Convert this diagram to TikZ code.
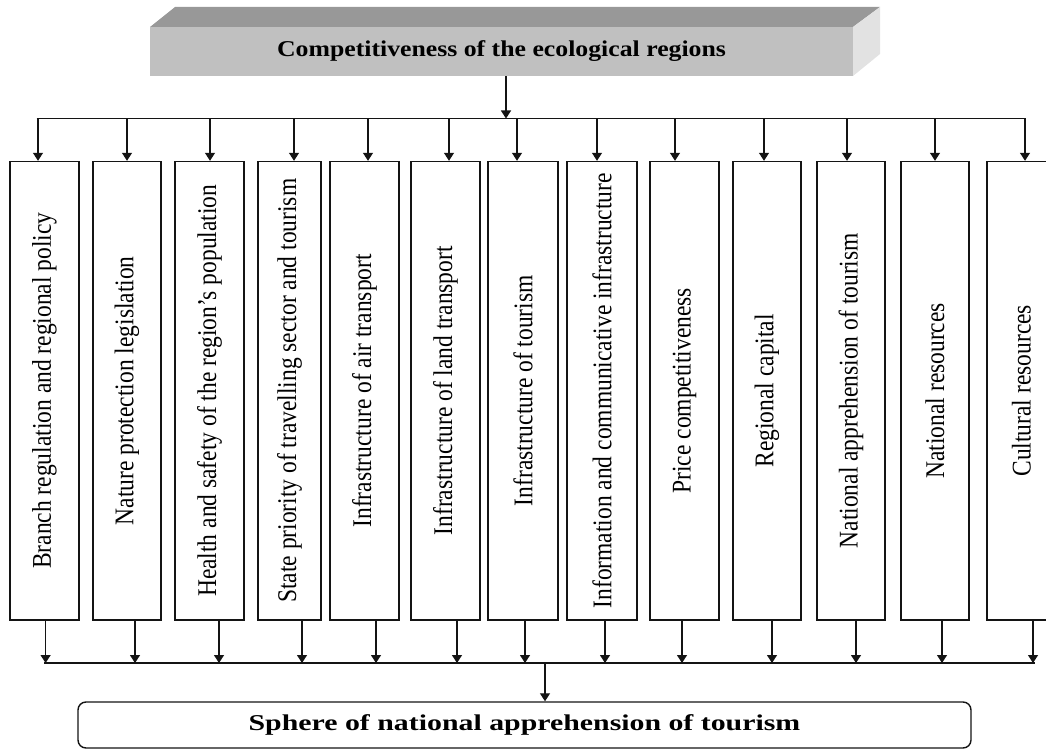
\documentclass[tikz,border=0pt]{standalone}
\usepackage{fontspec}
\setmainfont{Liberation Serif}
\newfontfamily\boxfont[FakeStretch=0.87]{Liberation Serif}
\newfontfamily\headfont[FakeStretch=1.14]{Liberation Serif Bold}
\newfontfamily\footfont[FakeStretch=1.32]{Liberation Serif Bold}
\usetikzlibrary{arrows.meta}

\definecolor{frontgray}{RGB}{192,192,192}
\definecolor{topgray}{RGB}{152,152,152}
\definecolor{sidegray}{RGB}{226,226,226}
\definecolor{lineblack}{RGB}{20,20,20}

\tikzset{
  arr/.style={-{Triangle[length=8pt,width=10pt]}, line width=1.2pt, draw=lineblack},
  bus/.style={line width=1.4pt, draw=lineblack},
  vbox/.style={draw=lineblack, line width=1.4pt, minimum height=458.5pt, inner sep=0pt,
    font=\boxfont\fontsize{27}{30}\selectfont},
  headbox/.style={fill=frontgray, minimum width=703pt, minimum height=49pt, inner sep=0pt,
    font=\headfont\fontsize{22.6}{26}\selectfont},
  footbox/.style={draw=lineblack, line width=1.4pt, rounded corners=8pt, minimum width=893pt,
    minimum height=46pt, inner sep=0pt, font=\footfont\fontsize{22.6}{26}\selectfont}
}

\begin{document}
\begin{tikzpicture}[x=1pt,y=-1pt]
\useasboundingbox (0,0) rectangle (1046,749);

% three-dimensional heading block
\fill[topgray] (150,27) -- (175,7) -- (880,7) -- (853,27) -- cycle;
\fill[sidegray] (853,27) -- (880,7) -- (880,54) -- (853,76) -- cycle;
\node[headbox] (head) at (501.5,51.5) {Competitiveness of the ecological regions};

% factor columns
\foreach \i/\l/\r/\t in {
  1/10/79/Branch regulation and regional policy,
  2/93/161/Nature protection legislation,
  3/175/244/Health and safety of the region’s population,
  4/258/321/State priority of travelling sector and tourism,
  5/330/399/Infrastructure of air transport,
  6/411/480/Infrastructure of land transport,
  7/488/558/Infrastructure of tourism,
  8/567/637/Information and communicative infrastructure,
  9/650/719/Price competitiveness,
  10/733/801/Regional capital,
  11/817/885/National apprehension of tourism,
  12/901/969/National resources,
  13/987/1056/Cultural resources}{
  \pgfmathsetmacro{\cx}{(\l+\r)/2}
  \pgfmathsetmacro{\w}{\r-\l}
  \node[vbox, minimum width=\w pt] (b\i) at (\cx,390.75) {\rotatebox{90}{\t}};
}

% result box
\node[footbox] (sphere) at (524.5,725) {Sphere of national apprehension of tourism};

% distribution bus from the heading
\coordinate (tc) at (506,118.5);
\draw[arr] (tc |- head.south) -- (tc);
\coordinate (tl) at (36.5,118.5);
\coordinate (tr) at (1024,118.5);
\draw[bus] (tl) -- (tr);

% collecting bus to the result box
\coordinate (dl) at (44,663);
\coordinate (dr) at (1035,663);
\draw[bus] (dl) -- (dr);
\coordinate (dc) at (545,663);
\draw[arr] (dc) -- (dc |- sphere.north);

\foreach \i/\tx/\bx in {1/38/45.6, 2/127/135, 3/210/219, 4/294/302, 5/368/376,
  6/449/457, 7/517/525, 8/597/605, 9/675/682, 10/764/772, 11/847/856,
  12/935/942, 13/1025/1033}{
  \coordinate (u\i) at (\tx,118.5);
  \coordinate (d\i) at (\bx,663);
  \draw[arr] (u\i) -- (u\i |- b\i.north);
  \draw[arr] (d\i |- b\i.south) -- (d\i);
}
\end{tikzpicture}
\end{document}
